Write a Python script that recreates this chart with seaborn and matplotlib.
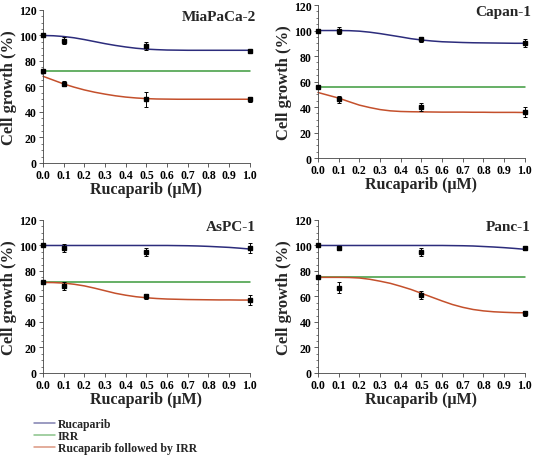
import pandas as pd
import seaborn as sns
import matplotlib.pyplot as plt
from matplotlib.lines import Line2D
from matplotlib.ticker import MultipleLocator

sns.set_style("ticks")
plt.rcParams['font.family'] = ['Liberation Serif', 'DejaVu Serif']
plt.rcParams['font.weight'] = 'bold'

cells = ['MiaPaCa-2', 'Capan-1', 'AsPC-1', 'Panc-1']
series = ['Rucaparib', 'IRR', 'Rucaparib followed by IRR']
colors = {'Rucaparib': '#2c2c7c', 'IRR': '#3c9a3c', 'Rucaparib followed by IRR': '#c4502c'}

# measured points (dose in uM)
dose = [0.0, 0.1, 0.5, 1.0]
ruc_mean = {
    'MiaPaCa-2': [100, 96, 92, 88],
    'Capan-1': [100, 100, 93, 90],
    'AsPC-1': [100, 98, 95, 98],
    'Panc-1': [100, 98, 95, 98],
}
ruc_err = {
    'MiaPaCa-2': [0, 3, 3, 1],
    'Capan-1': [0, 3, 2, 3],
    'AsPC-1': [0, 3, 3, 4],
    'Panc-1': [0, 1.5, 3, 1.5],
}
irr_value = {'MiaPaCa-2': 72, 'Capan-1': 56, 'AsPC-1': 71, 'Panc-1': 75}
combo_dose = [0.1, 0.5, 1.0]
combo_mean = {
    'MiaPaCa-2': [62, 50, 50],
    'Capan-1': [46, 40, 36],
    'AsPC-1': [68, 60, 57],
    'Panc-1': [67, 61, 47],
}
combo_err = {
    'MiaPaCa-2': [2, 6, 2],
    'Capan-1': [3, 3, 4],
    'AsPC-1': [3, 2, 4],
    'Panc-1': [4, 3, 2],
}

curve_x = [i / 20 for i in range(21)]
ruc_curve = {
    'MiaPaCa-2': [100, 99.8, 99.2, 98.2, 96.8, 95.2, 93.6, 92.2, 91.0, 90.0, 89.3,
                  88.9, 88.6, 88.5, 88.4, 88.4, 88.4, 88.4, 88.4, 88.4, 88.4],
    'Capan-1': [100, 100, 100, 99.9, 99.5, 98.7, 97.6, 96.3, 95.0, 93.6, 92.6,
                91.8, 91.2, 90.9, 90.6, 90.4, 90.3, 90.2, 90.1, 90.0, 90.0],
    'AsPC-1': [100, 100, 100, 100, 100, 100, 100, 100, 100, 100, 100,
               100, 100, 99.9, 99.8, 99.6, 99.3, 98.9, 98.5, 97.9, 97.2],
    'Panc-1': [100, 100, 100, 100, 100, 100, 100, 100, 100, 100, 100,
               100, 100, 99.9, 99.8, 99.6, 99.2, 98.8, 98.3, 97.7, 97.0],
}
combo_curve = {
    'MiaPaCa-2': [68, 65, 62, 59.5, 57.3, 55.5, 54, 52.7, 51.7, 51, 50.5,
                  50.2, 50.1, 50, 50, 50, 50, 50, 50, 50, 50],
    'Capan-1': [51.4, 49.2, 47, 44.2, 41.5, 39.6, 38, 37, 36.5, 36.3, 36.2,
                36.1, 36, 36, 36, 35.9, 35.9, 35.8, 35.8, 35.8, 35.7],
    'AsPC-1': [71, 70.9, 70.5, 69.6, 68.3, 66.5, 64.5, 62.5, 61, 59.8, 59,
               58.4, 58, 57.8, 57.6, 57.5, 57.4, 57.3, 57.3, 57.2, 57.2],
    'Panc-1': [75, 75, 75, 74.9, 74.5, 73.5, 72, 70.3, 68, 65.5, 62.5,
               59.5, 56.5, 53.7, 51.5, 49.8, 48.7, 48, 47.6, 47.3, 47.2],
}

fig = plt.figure(figsize=(5.33, 4.6), dpi=100)
positions = [
    [0.0807, 0.6435, 0.388, 0.3326],
    [0.5966, 0.6543, 0.388, 0.3326],
    [0.0807, 0.187, 0.388, 0.3326],
    [0.5966, 0.187, 0.388, 0.3326],
]

for cell, pos in zip(cells, positions):
    ax = fig.add_axes(pos)
    rows = []
    for x, r, c in zip(curve_x, ruc_curve[cell], combo_curve[cell]):
        rows.append([x, r, 'Rucaparib'])
        rows.append([x, irr_value[cell], 'IRR'])
        rows.append([x, c, 'Rucaparib followed by IRR'])
    df = pd.DataFrame(rows, columns=['dose', 'growth', 'treatment'])
    sns.lineplot(data=df, x='dose', y='growth', hue='treatment', hue_order=series,
                 palette=colors, linewidth=1.1, legend=False, ax=ax, clip_on=False)
    ax.errorbar(dose, ruc_mean[cell], yerr=ruc_err[cell], fmt='s', color='black',
                ms=3.2, elinewidth=0.7, capsize=1.5, capthick=0.7, clip_on=False, zorder=5)
    ax.errorbar([0.0], [irr_value[cell]], fmt='s', color='black', ms=3.2,
                clip_on=False, zorder=5)
    ax.errorbar(combo_dose, combo_mean[cell], yerr=combo_err[cell], fmt='s', color='black',
                ms=3.2, elinewidth=0.7, capsize=1.5, capthick=0.7, clip_on=False, zorder=5)

    ax.set_xlim(0, 1.0)
    ax.set_ylim(0, 120)
    ax.set_xticks([i / 10 for i in range(11)])
    ax.set_xticklabels(['%.1f' % (i / 10) for i in range(11)])
    ax.set_yticks(range(0, 121, 20))
    ax.yaxis.set_minor_locator(MultipleLocator(5))
    ax.tick_params(axis='both', labelsize=8.5, length=3, width=0.6, pad=1.5, colors='#444444',
                   labelcolor='black')
    ax.tick_params(axis='y', which='minor', length=1.5, width=0.5, colors='#444444')
    for lab in ax.get_xticklabels() + ax.get_yticklabels():
        lab.set_fontweight('bold')
    for s in ['left', 'bottom']:
        ax.spines[s].set_linewidth(0.6)
        ax.spines[s].set_color('#444444')
    sns.despine(ax=ax)
    ax.set_xlabel(u'Rucaparib (\u03bcM)', fontsize=11.5, fontweight='bold', labelpad=0)
    ax.set_ylabel('Cell growth (%)', fontsize=12, fontweight='bold', labelpad=1)
    ax.text(1.03, 1.0, cell, transform=ax.transAxes, ha='right', va='top',
            fontsize=11, fontweight='bold')

handles = [Line2D([0], [0], color=colors[s], lw=1.1, alpha=0.6) for s in series]
fig.legend(handles, series, loc='upper left', bbox_to_anchor=(0.055, 0.1),
           frameon=False, handlelength=1.8, handletextpad=0.2,
           labelspacing=0.02, borderaxespad=0, prop={'weight': 'bold', 'size': 8.5})

fig.savefig('out.png', dpi=100)
